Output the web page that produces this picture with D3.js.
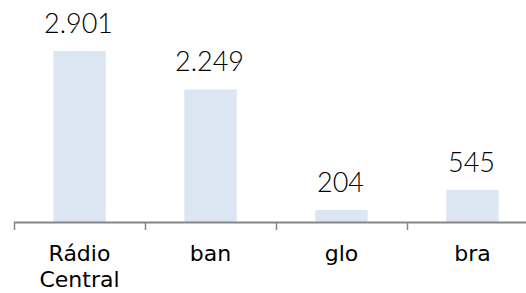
<!DOCTYPE html>
<html><head><meta charset="utf-8">
<script src="https://cdn.jsdelivr.net/npm/d3@7"></script>
<style>
html,body{margin:0;padding:0;background:#fff;}
text{fill:#000;}
.val{font-family:"Century Gothic","Lato",sans-serif;font-weight:300;}
.cat{font-family:"Century Gothic","DejaVu Sans",sans-serif;}
</style></head>
<body><svg id="c" width="526" height="293"></svg>
<script>
const categories = ["Rádio Central", "ban", "glo", "bra"];
const values = [2901, 2249, 204, 545];
const valueLabels = ["2.901", "2.249", "204", "545"];

const svg = d3.select("#c");
const baseY = 222;
const left = 14, step = 131;
const x = d3.scaleBand().domain(categories).range([left, left + step * categories.length]).paddingInner(0.6).paddingOuter(0.3);
const pxPerUnit = 171 / 2901;
const y = d3.scaleLinear().domain([0, 3500]).range([baseY, baseY - 3500 * pxPerUnit]);

svg.selectAll("rect.bar").data(values).enter().append("rect")
  .attr("x", (d, i) => x(categories[i]))
  .attr("y", d => y(d))
  .attr("width", x.bandwidth())
  .attr("height", d => baseY - y(d))
  .attr("fill", "#dce6f2");

svg.selectAll("text.val").data(values).enter().append("text")
  .attr("class", "val")
  .attr("x", (d, i) => x(categories[i]) + x.bandwidth() / 2 - 1)
  .attr("y", d => y(d) - 18)
  .attr("text-anchor", "middle")
  .attr("font-size", 27)
  .text((d, i) => valueLabels[i]);

// axis
const axisG = svg.append("g").attr("transform", `translate(0,${baseY})`);
const ax = d3.axisBottom(x).tickSize(0).tickFormat("");
axisG.call(ax);
axisG.select(".domain").remove();
axisG.append("line").attr("x1", left).attr("x2", left + step * categories.length)
  .attr("y1", 0.5).attr("y2", 0.5).attr("stroke", "#868686").attr("stroke-width", 2);
const bounds = d3.range(categories.length + 1).map(i => left + step * i);
axisG.selectAll("line.tk").data(bounds).enter().append("line")
  .attr("x1", d => d + 0.5).attr("x2", d => d + 0.5)
  .attr("y1", 0).attr("y2", 8).attr("stroke", "#868686").attr("stroke-width", 1.5);

const lbl = svg.selectAll("text.cat").data(categories).enter().append("text")
  .attr("class", "cat")
  .attr("text-anchor", "middle")
  .attr("font-size", 22)
  .attr("x", d => x(d) + x.bandwidth() / 2)
  .attr("y", 261);
lbl.each(function(d) {
  const words = d.split(" ");
  const t = d3.select(this);
  words.forEach((w, j) => {
    t.append("tspan").attr("x", x(d) + x.bandwidth() / 2).attr("dy", j === 0 ? 0 : 26).text(w);
  });
});
</script></body></html>
